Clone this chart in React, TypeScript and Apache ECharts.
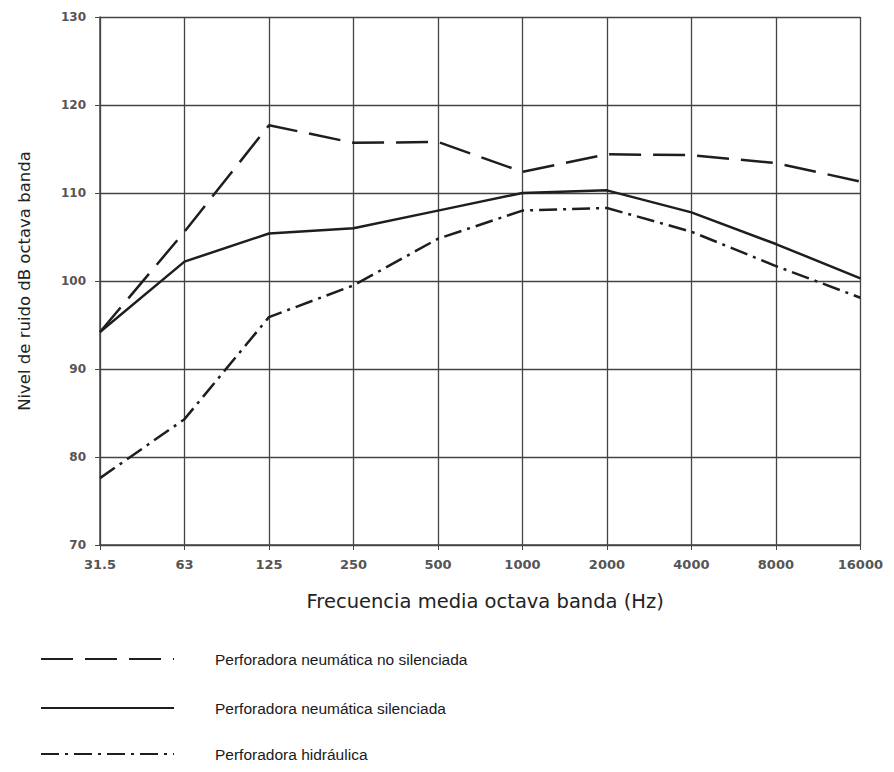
import React, { useEffect, useRef } from "react";
import * as echarts from "echarts";

const frequencies = ["31.5", "63", "125", "250", "500", "1000", "2000", "4000", "8000", "16000"];
const noSilenciada = [94.2, 105.6, 117.7, 115.7, 115.8, 112.4, 114.4, 114.3, 113.4, 111.3];
const silenciada = [94.2, 102.2, 105.4, 106.0, 108.0, 110.0, 110.3, 107.8, 104.2, 100.3];
const hidraulica = [77.6, 84.3, 95.9, 99.5, 104.8, 108.0, 108.3, 105.6, 101.7, 98.1];
const seriesNames = [
  "Perforadora neumática no silenciada",
  "Perforadora neumática silenciada",
  "Perforadora hidráulica",
];

export default function App() {
  const ref = useRef<HTMLDivElement>(null);
  useEffect(() => {
    if (!ref.current) return;
    const chart = echarts.init(ref.current, null, { renderer: "svg" });
    const lineColor = "#1e1e1e";
    const gridColor = "#444";
    const legendTops = [643, 692, 738];
    const legends = seriesNames.map((name, i) => ({
      orient: "vertical",
      left: 32,
      top: legendTops[i],
      padding: 0,
      itemWidth: 133,
      itemHeight: 14,
      data: [name],
      itemStyle: { opacity: 0 },
      textStyle: {
        fontFamily: "Liberation Sans",
        fontSize: 15.5,
        color: "#1a1a1a",
        padding: [0, 0, 0, 36],
      },
    }));
    chart.setOption({
      animation: false,
      backgroundColor: "#ffffff",
      grid: { left: 89, right: 23, top: 9, bottom: 219, containLabel: false },
      legend: legends,
      xAxis: {
        type: "category",
        data: frequencies,
        boundaryGap: false,
        name: "Frecuencia media octava banda (Hz)",
        nameLocation: "middle",
        nameGap: 46,
        nameTextStyle: { fontFamily: "DejaVu Sans", fontSize: 19.5, color: "#222", padding: [0, 0, 0, 10] },
        axisLine: { lineStyle: { color: gridColor, width: 1.5 } },
        axisTick: { show: true, length: 5, lineStyle: { color: gridColor } },
        axisLabel: {
          fontFamily: "DejaVu Sans",
          fontWeight: "bold",
          fontSize: 13,
          color: "#555",
          margin: 13,
        },
        splitLine: { show: true, lineStyle: { color: gridColor, width: 1.3 } },
      },
      yAxis: {
        type: "value",
        min: 70,
        max: 130,
        interval: 10,
        name: "Nivel de ruido dB octava banda",
        nameLocation: "middle",
        nameGap: 67,
        nameTextStyle: { fontFamily: "DejaVu Sans", fontSize: 16.5, color: "#222" },
        axisLine: { show: true, lineStyle: { color: gridColor, width: 1.5 } },
        axisTick: { show: true, length: 5, lineStyle: { color: gridColor } },
        axisLabel: {
          fontFamily: "DejaVu Sans",
          fontWeight: "bold",
          fontSize: 12,
          color: "#555",
          margin: 14,
        },
        splitLine: { show: true, lineStyle: { color: gridColor, width: 1.3 } },
      },
      series: [
        {
          name: seriesNames[0],
          type: "line",
          data: noSilenciada,
          symbol: "none",
          lineStyle: { color: lineColor, width: 2.5, type: [32, 12] },
          itemStyle: { color: lineColor },
        },
        {
          name: seriesNames[1],
          type: "line",
          data: silenciada,
          symbol: "none",
          lineStyle: { color: lineColor, width: 2.5, type: "solid" },
          itemStyle: { color: lineColor },
        },
        {
          name: seriesNames[2],
          type: "line",
          data: hidraulica,
          symbol: "none",
          lineStyle: { color: lineColor, width: 2.5, type: [18, 6, 3, 6] },
          itemStyle: { color: lineColor },
        },
      ],
    });
    return () => chart.dispose();
  }, []);
  return <div ref={ref} style={{ width: 878, height: 756 }} />;
}
